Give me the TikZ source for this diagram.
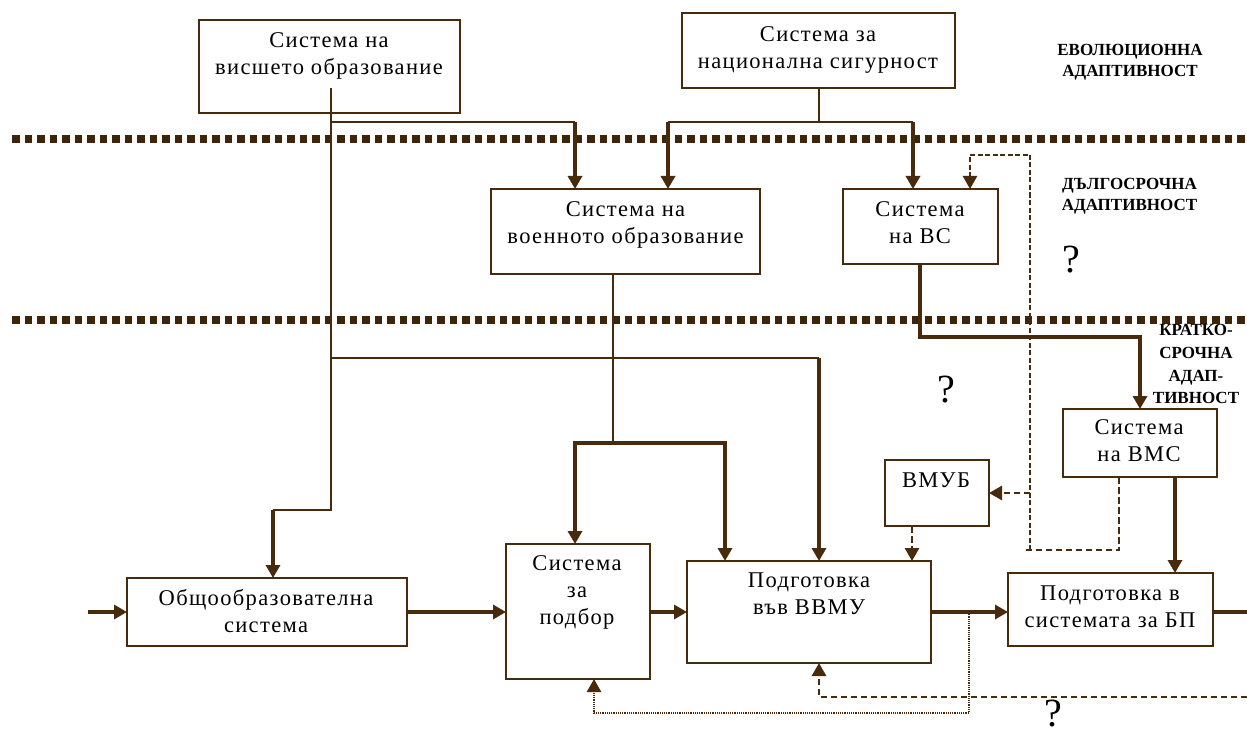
\documentclass[tikz,border=0pt]{standalone}
\usepackage{fontspec}
\setmainfont{Liberation Serif}
\usetikzlibrary{arrows.meta}
\definecolor{ln}{RGB}{72,42,12}
\definecolor{sepc}{RGB}{62,36,8}
\begin{document}
\begin{tikzpicture}[x=1pt,y=-1pt,
  box/.style={draw=ln,line width=2.4pt,inner sep=0pt,outer sep=0pt},
  txt/.style={align=center,inner sep=0pt,text=black,
    font=\fontsize{22.5}{27}\selectfont\addfontfeatures{LetterSpace=6},
    execute at begin node=\strut,execute at end node=\strut},
  lvl/.style={align=center,inner sep=0pt,text=black,
    font=\fontsize{17}{21}\selectfont\bfseries,
    execute at begin node=\strut,execute at end node=\strut},
  qmark/.style={inner sep=0pt,text=black,font=\fontsize{40}{40}\selectfont},
  sepline/.style={draw=sepc,line width=7.5pt,dash pattern=on 7.5pt off 5pt},
  thinln/.style={draw=ln,line width=1.8pt},
  midln/.style={draw=ln,line width=2.4pt},
  thickln/.style={draw=ln,line width=3.4pt},
  dashln/.style={draw=ln,line width=2.8pt,dash pattern=on 6.5pt off 3.5pt},
  dashfine/.style={draw=ln,line width=2.4pt,dash pattern=on 5pt off 2.5pt},
  dotln/.style={draw=ln,line width=2.5pt,dash pattern=on 1.2pt off 1pt},
  tip/.tip={Triangle[width=14pt,length=13pt]},
  arr/.style={-tip},
]
\fill[white] (0,0) rectangle (1247,738);
\useasboundingbox (0,0) rectangle (1247,738);

% level separators
\coordinate (s1w) at (12,139);  \coordinate (s1e) at (1247,139);
\coordinate (s2w) at (12,320);  \coordinate (s2e) at (1247,320);
\draw[sepline] (s1w) -- (s1e);
\draw[sepline] (s2w) -- (s2e);

% boxes
\node[box,minimum width=261,minimum height=93] (A) at (329.5,66.5) {};
\node[box,minimum width=273,minimum height=75] (B) at (818.5,50.5) {};
\node[box,minimum width=269,minimum height=85] (C) at (625.5,231.5) {};
\node[box,minimum width=155,minimum height=75] (D) at (920.5,226.5) {};
\node[box,minimum width=154,minimum height=68] (E) at (1140,443) {};
\node[box,minimum width=104,minimum height=66] (F) at (937,493) {};
\node[box,minimum width=280,minimum height=68] (G) at (267,612) {};
\node[box,minimum width=144,minimum height=135] (H) at (578,611.5) {};
\node[box,minimum width=244,minimum height=102] (I) at (809,612) {};
\node[box,minimum width=205,minimum height=73] (J) at (1110.5,609.5) {};

% box texts
\node[txt] (At) at (329,58) {Система на\\висшето образование};
\node[txt] (Bt) at (818,52) {Система за\\национална сигурност};
\node[txt] (Ct) at (625.5,226.6) {Система на\\военното образование};
\node[txt] (Dt) at (920,226.6) {Система\\на ВС};
\node[txt] (Et) at (1139,445) {Система\\на ВМС};
\node[txt] (Ft) at (936,481.6) {ВМУБ};
\node[txt] (Gt) at (266,615) {Общообразователна\\система};
\node[txt] (Ht) at (577,594) {Система\\за\\подбор};
\node[txt] (It) at (809,597.6) {Подготовка\\във ВВМУ};
\node[txt] (Jt) at (1110,610.6) {Подготовка в\\системата за БП};

% level labels
\node[lvl] (L1) at (1130,63.9) {ЕВОЛЮЦИОННА\\АДАПТИВНОСТ};
\node[lvl] (L2) at (1129.5,197.4) {ДЪЛГОСРОЧНА\\АДАПТИВНОСТ};
\node[lvl,font=\fontsize{17}{22.7}\selectfont\bfseries] (L3) at (1196,367.5)
  {КРАТКО-\\СРОЧНА\\АДАП-\\ТИВНОСТ};

% open questions
\node[qmark] (q1) at (1071,260) {?};
\node[qmark] (q2) at (946,390) {?};
\node[qmark] (q3) at (1053,714) {?};

% links from higher education
\coordinate (aS)  at (331,88);
\coordinate (aK1) at (331,122);
\coordinate (cK1) at (575,122);
\coordinate (aK2) at (331,358);
\coordinate (iK1) at (819,358);
\coordinate (aK3) at (331,510);
\coordinate (gK)  at (273,510);
\draw[thinln] (aS) -- (aK3) -- (gK);
\draw[thickln,arr] (gK) -- (gK |- G.north);
\draw[thinln] (aK1) -- (cK1);
\draw[thickln,arr] (cK1) -- (cK1 |- C.north);
\draw[thinln] (aK2) -- (iK1);
\draw[thickln,arr] (iK1) -- (iK1 |- I.north);

% links from national security
\coordinate (bK)  at (819,122);
\coordinate (cK2) at (668,122);
\coordinate (dK1) at (913,122);
\draw[thinln] (B.south -| bK) -- (bK);
\draw[midln] (cK2) -- (dK1);
\draw[thickln,arr] (cK2) -- (cK2 |- C.north);
\draw[thickln,arr] (dK1) -- (dK1 |- D.north);

% links from military education
\coordinate (cS)  at (613,443);
\coordinate (hK)  at (575,443);
\coordinate (iK2) at (725,443);
\draw[thinln] (C.south -| cS) -- (cS);
\draw[thickln,tip-tip] (hK |- H.north) -- (hK) -- (iK2) -- (iK2 |- I.north);

% armed forces -> navy -> fleet training
\coordinate (dK2) at (920,337);
\coordinate (eK)  at (1140,337);
\draw[thickln,arr] (D.south -| dK2) -- (dK2) -- (eK) -- (eK |- E.north);
\coordinate (ejx) at (1175,477);
\draw[thickln,arr] (E.south -| ejx) -- (ejx |- J.north);

% dashed feedback from the navy
\coordinate (eD) at (1119,550);
\coordinate (lD) at (1023,550);
\coordinate (vB) at (1030,550);
\coordinate (vT) at (1030,155);
\coordinate (dT) at (970,155);
\coordinate (fK) at (1030,493);
\coordinate (fI) at (912,526);
\draw[dashln] (E.south -| eD) -- (eD) -- (lD);
\draw[dashfine,arr] (vB) -- (vT) -- (dT) -- (dT |- D.north);
\draw[dashln,arr] (fK) -- (F.east);
\draw[dashln,arr] (F.south -| fI) -- (fI |- I.north);

% main flow
\coordinate (in)  at (88,612);
\coordinate (out) at (1247,612);
\draw[thickln,arr] (in) -- (G.west);
\draw[thickln,arr] (G.east) -- (G.east -| H.west);
\draw[thickln,arr] (H.east |- G.east) -- (G.east -| I.west);
\draw[thickln,arr] (I.east |- G.east) -- (G.east -| J.west);
\draw[thickln] (J.east |- out) -- (out);

% feedback loops at the bottom
\coordinate (dj)  at (969,612);
\coordinate (dj2) at (969,713);
\coordinate (hb)  at (594,713);
\draw[dotln,arr] (dj) -- (dj2) -- (hb) -- (hb |- H.south);
\coordinate (rD) at (1247,697);
\coordinate (iB) at (819,697);
\draw[dashln,arr] (rD) -- (iB) -- (iB |- I.south);
\end{tikzpicture}
\end{document}
